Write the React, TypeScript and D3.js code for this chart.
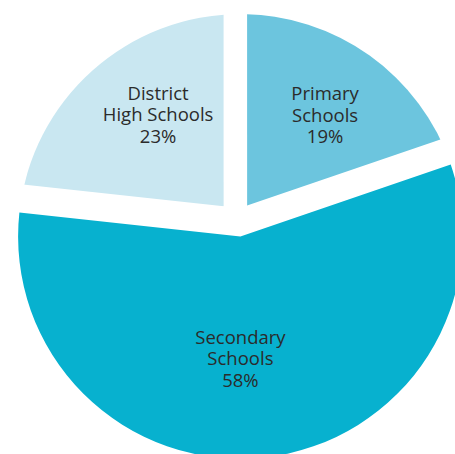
import React from "react";
import * as d3 from "d3";

// ---- data ----
const categories = ["Primary Schools", "Secondary Schools", "District High Schools"];
const labelLines = [["Primary", "Schools"], ["Secondary", "Schools"], ["District", "High Schools"]];
const percentLabels = ["19%", "58%", "23%"];
// shares
const shares = [19.75, 56.97, 23.28];

// ---- layout / style ----
const W = 455;
const H = 454;
const cx = 240.4;
const cy = 236.4;
const radius = 222.3;
const colors = ["#6cc5de", "#07b1cf", "#c9e7f1"];
// white gap inset on [start edge, end edge] of each slice (px)
const insets = [[6.7, 27], [0, 0], [28.2, 16.8]];
// label anchor (middle line baseline): [angle deg, radius px]
const labelPolar = [[36.4, 142.7], [180, 128.9], [324.4, 141.4]];
const lineGap = 21.3;

export default function App() {
  const pie = d3.pie<number>().value((d) => d).sort(null).startAngle(0).endAngle(2 * Math.PI);
  const arcs = pie(shares);
  const arcGen = d3.arc<d3.PieArcDatum<number>>().innerRadius(0).outerRadius(radius);

  const clips = arcs.map((a, i) => {
    const [o0, o1] = insets[i];
    if (o0 === 0 && o1 === 0) return null;
    const a0 = a.startAngle;
    const a1 = a.endAngle;
    const n0x = Math.cos(a0), n0y = Math.sin(a0);
    const n1x = -Math.cos(a1), n1y = -Math.sin(a1);
    const det = n0x * n1y - n0y * n1x;
    const px = (o0 * n1y - n0y * o1) / det;
    const py = (n0x * o1 - o0 * n1x) / det;
    const L = 3000;
    const pts: [number, number][] = [
      [px, py],
      [px + L * Math.sin(a0), py - L * Math.cos(a0)],
      [px + L * Math.sin(a1), py - L * Math.cos(a1)],
    ];
    return pts.map((p) => p.join(",")).join(" ");
  });

  return (
    <svg
      width={W}
      height={H}
      style={{ position: "absolute", left: 0, top: 0, background: "#fff" }}
    >
      <defs>
        {clips.map((c, i) =>
          c ? (
            <clipPath id={`clip-${i}`} key={i}>
              <polygon points={c} />
            </clipPath>
          ) : null
        )}
      </defs>
      <g transform={`translate(${cx},${cy})`}>
        {arcs.map((a, i) => (
          <path
            key={categories[i]}
            d={arcGen(a) || ""}
            fill={colors[i]}
            clipPath={clips[i] ? `url(#clip-${i})` : undefined}
          />
        ))}
        {arcs.map((a, i) => {
          const [ang, r] = labelPolar[i];
          const [lx, ly] = d3.pointRadial((ang * Math.PI) / 180, r);
          const lines = [...labelLines[i], percentLabels[i]];
          return (
            <g key={"t" + i}>
              {lines.map((ln, j) => (
                <text
                  key={j}
                  x={lx}
                  y={ly + (j - 1) * lineGap}
                  textAnchor="middle"
                  fontFamily="'Open Sans', sans-serif"
                  fontSize={18.5}
                  fill="#2b2b2b"
                >
                  {ln}
                </text>
              ))}
            </g>
          );
        })}
      </g>
    </svg>
  );
}
